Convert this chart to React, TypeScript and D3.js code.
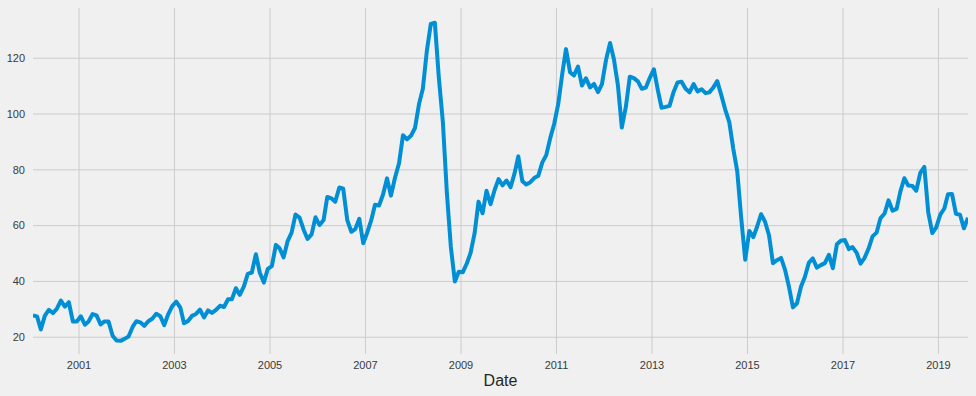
import React from 'react';
import * as d3 from 'd3';

// monthly prices, first point Jan 2000, last Aug 2019
const startYear = 2000;
const prices2000s = [
  27.78, 27.49, 22.76, 27.74, 29.8, 28.68, 30.2, 33.14, 30.96, 32.55, 25.66, 25.62,
  27.5, 24.5, 25.66, 28.31, 27.85, 24.61, 25.68, 25.62, 20.54, 18.8, 18.71, 19.42,
  20.28, 23.7, 25.73, 25.35, 24.08, 25.74, 26.65, 28.4, 27.54, 24.34, 28.33, 31.18,
  32.77, 30.61, 25.0, 25.86, 27.65, 28.35, 29.89, 27.11, 29.61, 28.75, 29.81, 31.28,
  30.86, 33.63, 33.59, 37.57, 35.18, 38.22, 42.74, 43.2, 49.78, 43.11, 39.6, 44.51,
  45.48, 53.1, 51.88, 48.65, 54.35, 57.52, 63.98, 62.91, 58.54, 55.24, 56.86, 62.99,
  60.21, 62.06, 70.26, 69.78, 68.56, 73.67, 73.23, 61.96, 57.81, 58.76, 62.47, 53.68,
  57.56, 62.05, 67.49, 67.21, 71.05, 76.93, 70.76, 77.17, 82.34, 92.41, 90.93, 92.18,
  94.99, 103.64, 109.07, 122.8, 132.32, 132.72, 113.24, 97.23, 71.58, 52.45, 39.95, 43.44,
  43.32, 46.54, 50.18, 57.3, 68.61, 64.44, 72.51, 67.65, 72.77, 76.66, 74.46, 76.17,
];
const prices2010s = [
  73.75, 78.83, 84.82, 75.95, 74.76, 75.58, 77.04, 77.84, 82.67, 85.28, 91.45, 96.52,
  103.72, 114.64, 123.26, 114.99, 113.83, 116.97, 110.22, 112.83, 109.55, 110.77, 107.87, 110.69,
  119.33, 125.45, 119.75, 110.34, 95.16, 102.62, 113.36, 112.86, 111.71, 109.06, 109.49, 112.96,
  116.05, 108.47, 102.25, 102.56, 102.92, 107.93, 111.28, 111.6, 109.08, 107.79, 110.76, 108.12,
  108.9, 107.48, 107.76, 109.54, 111.8, 106.77, 101.61, 97.09, 87.43, 79.44, 62.34, 47.76,
  58.1, 55.89, 59.52, 64.08, 61.48, 56.56, 46.52, 47.62, 48.43, 44.27, 38.01, 30.7,
  32.18, 38.21, 41.58, 46.74, 48.25, 44.95, 45.84, 46.57, 49.52, 44.73, 53.31, 54.58,
  54.87, 51.59, 52.31, 50.33, 46.37, 48.48, 51.7, 56.15, 57.51, 62.71, 64.37, 69.08,
  65.32, 66.02, 72.11, 76.98, 74.41, 74.25, 72.53, 78.89, 81.03, 64.75, 57.36, 59.41,
  63.96, 66.14, 71.23, 71.32, 64.22, 63.92, 59.04, 62.83,
];
const yTicks = [20, 40, 60, 80, 100, 120];
const xTickYears = [2001, 2003, 2005, 2007, 2009, 2011, 2013, 2015, 2017, 2019];

const W = 976;
const H = 396;
const margin = { top: 8, right: 8, bottom: 42, left: 33 };

const values = [...prices2000s, ...prices2010s];
const data = values.map((v, i) => ({ date: new Date(startYear, i, 15), value: v }));

export default function App() {
  const x = d3.scaleTime()
    .domain(d3.extent(data, (d) => d.date) as [Date, Date])
    .range([margin.left, W - margin.right]);
  const y = d3.scaleLinear()
    .domain([14, 138])
    .range([H - margin.bottom, margin.top]);

  const line = d3.line<{ date: Date; value: number }>()
    .x((d) => x(d.date))
    .y((d) => y(d.value));

  const font = '"Liberation Sans", Arial, sans-serif';
  const top = margin.top;
  const bottom = H - margin.bottom;

  return (
    <svg width={W} height={H} style={{ position: 'absolute', left: 0, top: 0, display: 'block' }}>
      <rect x={0} y={0} width={W} height={H} fill="#f0f0f0" />
      <defs>
        <clipPath id="plot">
          <rect x={margin.left} y={top} width={W - margin.left - margin.right} height={bottom - top} />
        </clipPath>
      </defs>
      <g>
        {yTicks.map((t) => (
          <line key={'gy' + t} x1={margin.left} x2={W - margin.right} y1={y(t)} y2={y(t)}
            stroke="#cbcbcb" strokeWidth={1} />
        ))}
        {xTickYears.map((yr) => {
          const px = x(new Date(yr, 0, 1));
          return (
            <line key={'gx' + yr} x1={px} x2={px} y1={top} y2={bottom} stroke="#cbcbcb" strokeWidth={1} />
          );
        })}
      </g>
      <path d={line(data) || ''} fill="none" stroke="#008fd5" strokeWidth={4}
        strokeLinejoin="round" clipPath="url(#plot)" />
      <g fontFamily={font} fontSize={11} fill="#3a3a3a">
        {yTicks.map((t) => (
          <text key={'ly' + t} x={25} y={y(t)} dy="0.35em" textAnchor="end">{t}</text>
        ))}
        {xTickYears.map((yr) => (
          <text key={'lx' + yr} x={x(new Date(yr, 0, 1))} y={369} textAnchor="middle">{yr}</text>
        ))}
      </g>
      <text x={(margin.left + W - margin.right) / 2} y={386} textAnchor="middle"
        fontFamily={font} fontSize={16} fill="#262626">Date</text>
    </svg>
  );
}
